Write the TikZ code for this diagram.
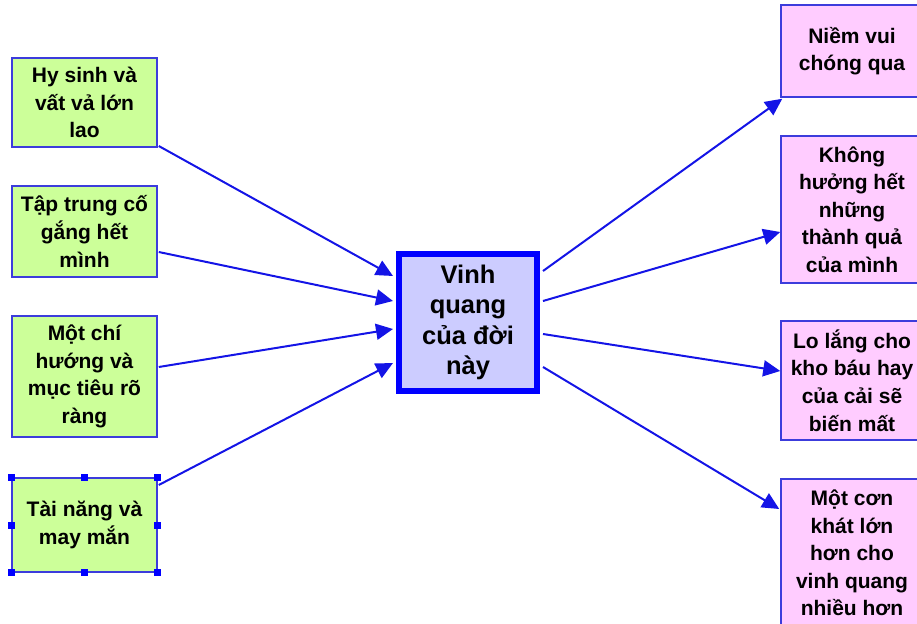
\documentclass[tikz,border=0pt]{standalone}
\usepackage{fontspec}
\setmainfont{Liberation Sans}
\usetikzlibrary{calc,arrows.meta}
\definecolor{leftfill}{RGB}{204,255,153}
\definecolor{rightfill}{RGB}{255,204,255}
\definecolor{centerfill}{RGB}{204,204,255}
\definecolor{boxborder}{RGB}{60,60,220}
\definecolor{arrowblue}{RGB}{20,20,230}
\begin{document}
\begin{tikzpicture}[x=1pt,y=-1pt,
  txt/.style={font=\fontsize{21}{27.6}\selectfont\bfseries, align=center, text=black, inner sep=0pt},
  leftbox/.style={txt, draw=boxborder, fill=leftfill, line width=1.5pt, minimum width=145pt},
  rightbox/.style={txt, draw=boxborder, fill=rightfill, line width=1.5pt, minimum width=142pt},
  centerbox/.style={txt, draw=blue, fill=centerfill, line width=6pt, minimum width=138pt, minimum height=137pt, font=\fontsize{25.5}{30.3}\selectfont\bfseries},
  conn/.style={draw=arrowblue, line width=2pt, -{Triangle[length=17pt,width=16pt]}},
  handle/.style={fill=blue, minimum size=7pt, inner sep=0pt}
]
\useasboundingbox (0,0) rectangle (917,623);
\clip (0,0) rectangle (917,623);

% left boxes
\node[leftbox, minimum height=89pt] (l1) at (84.5,102.5) {Hy sinh và\\vất vả lớn\\lao};
\node[leftbox, minimum height=91pt] (l2) at (84.5,231.5) {Tập trung cố\\gắng hết\\mình};
\node[leftbox, minimum height=121pt] (l3) at (84.5,376.5) {Một chí\\hướng và\\mục tiêu rõ\\ràng};
\node[leftbox, minimum height=94pt] (l4) at (84.5,525) {Tài năng và\\may mắn};

% selection handles
\node[handle] (h1) at (l4.north west) {};
\node[handle] (h2) at (l4.north) {};
\node[handle] (h3) at (l4.north east) {};
\node[handle] (h4) at (l4.west) {};
\node[handle] (h5) at (l4.east) {};
\node[handle] (h6) at (l4.south west) {};
\node[handle] (h7) at (l4.south) {};
\node[handle] (h8) at (l4.south east) {};

% center box
\node[centerbox] (c) at (468,322.5) {Vinh\\quang\\của đời\\ này};

% right boxes
\node[rightbox, minimum height=92pt] (r1) at (852,51) {Niềm vui\\chóng qua};
\node[rightbox, minimum height=147pt] (r2) at (852,209.5) {Không\\hưởng hết\\những\\thành quả\\của mình};
\node[rightbox, minimum height=119pt] (r3) at (852,380.5) {Lo lắng cho\\kho báu hay\\của cải sẽ\\biến mất};
\node[rightbox, minimum height=148pt] (r4) at (852,553) {Một cơn\\khát lớn\\hơn cho\\vinh quang\\nhiều hơn};

% connectors left -> center
\draw[conn] ($(l1.east)+(1,43.5)$) -- ($(c.west)+(-3,-46.5)$);
\draw[conn] ($(l2.east)+(1,20.5)$) -- ($(c.west)+(-3,-21.5)$);
\draw[conn] ($(l3.east)+(1,-9.5)$) -- ($(c.west)+(-3,6.5)$);
\draw[conn] ($(l4.east)+(1,-40)$) -- ($(c.west)+(-3,40.5)$);

% connectors center -> right
\draw[conn] ($(c.east)+(3,-51.5)$) -- ($(r1.south west)+(2,1)$);
\draw[conn] ($(c.east)+(3,-21.5)$) -- ($(r2.west)+(0,22.5)$);
\draw[conn] ($(c.east)+(3,11.5)$) -- ($(r3.west)+(0,-9.5)$);
\draw[conn] ($(c.east)+(3,44.5)$) -- ($(r4.west)+(-1,-44)$);
\end{tikzpicture}
\end{document}
